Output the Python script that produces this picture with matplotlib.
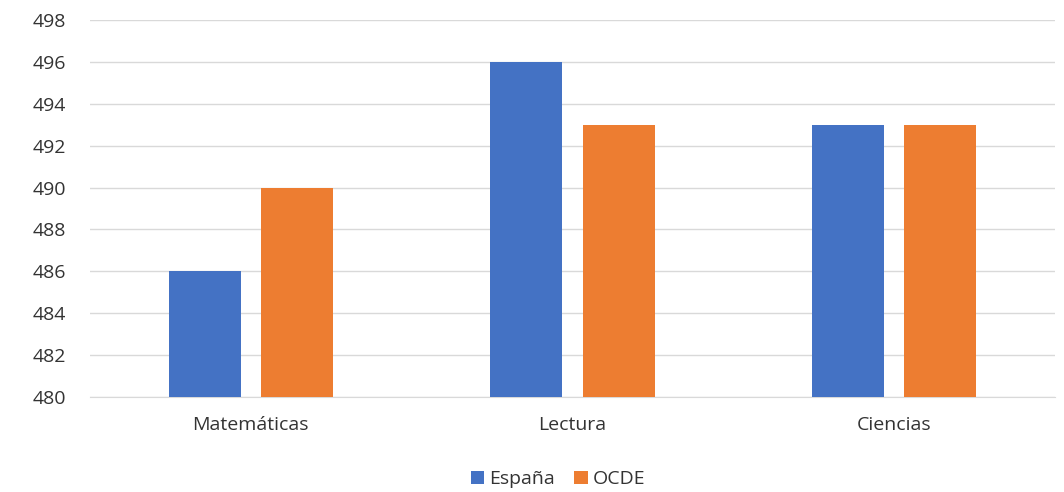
import matplotlib.pyplot as plt
import numpy as np

categories = ['Matemáticas', 'Lectura', 'Ciencias']
espana = [486, 496, 493]
ocde = [490, 493, 493]
yticks = [480, 482, 484, 486, 488, 490, 492, 494, 496, 498]

plt.rcParams['font.family'] = ['Open Sans', 'DejaVu Sans']

fig = plt.figure(figsize=(10.64, 4.92), dpi=100)
ax = fig.add_axes([90 / 1064, 1 - 397 / 492, (1055 - 90) / 1064, (397 - 20) / 492])

x = np.arange(len(categories))
w = 0.224
off = 0.1437
ax.bar(x - off, [v - 480 for v in espana], w, bottom=480, color='#4472C4', label='España', zorder=3)
ax.bar(x + off, [v - 480 for v in ocde], w, bottom=480, color='#ED7D31', label='OCDE', zorder=3)

ax.set_xlim(-0.5, 2.5)
ax.set_ylim(480, 498)
ax.set_yticks(yticks)
ax.set_xticks(x)
ax.set_xticklabels(categories)
ax.grid(axis='y', color='#D9D9D9', linewidth=1, zorder=0)
for s in ['top', 'right', 'left']:
    ax.spines[s].set_visible(False)
ax.spines['bottom'].set_color('#D9D9D9')
ax.tick_params(axis='both', length=0, labelsize=14, colors='#333333')
ax.tick_params(axis='y', pad=17)
ax.tick_params(axis='x', pad=14)

fig.legend(loc='center', bbox_to_anchor=(558 / 1064, 1 - 479 / 492), ncol=2, frameon=False,
           fontsize=14, handlelength=0.68, handleheight=0.68, handletextpad=0.25, columnspacing=1.0,
           labelcolor='#333333')

fig.savefig('out.png')
